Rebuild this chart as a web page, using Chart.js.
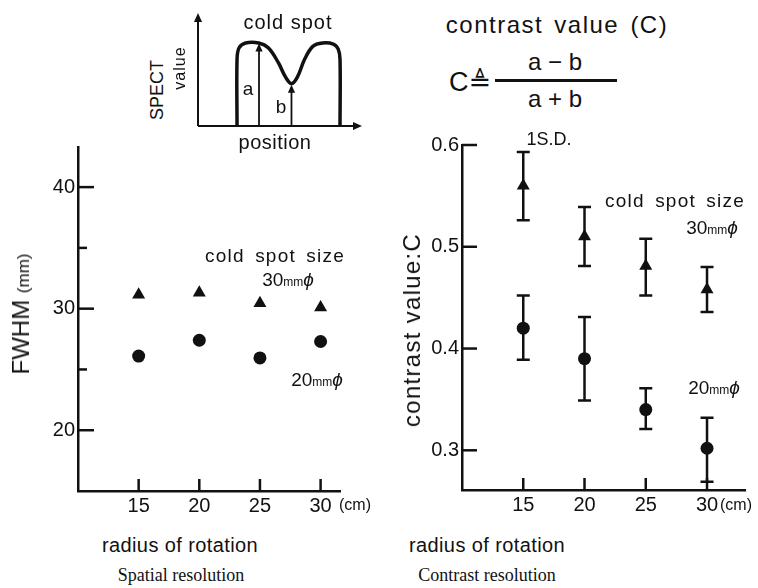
<!DOCTYPE html>
<html>
<head>
<meta charset="utf-8">
<script src="https://cdn.jsdelivr.net/npm/chart.js@4.4.1/dist/chart.umd.min.js"></script>
<style>
body { margin: 0; background: #fff; }
#page { position: relative; width: 758px; height: 588px; overflow: hidden;
  font-family: "Liberation Sans", Arial, sans-serif; color: #111; }
canvas { position: absolute; }
.t { position: absolute; transform: translate(-50%, -50%); white-space: nowrap; line-height: 1; }
.r { transform: translate(-50%, -50%) rotate(-90deg); }
.sm { font-size: 12px; }
.phi { font-style: italic; }
.serif { font-family: "Liberation Serif", "Times New Roman", serif; }
</style>
</head>
<body>
<div id="page">
  <canvas id="inset" width="172" height="121" style="left:194px;top:9px"></canvas>
  <canvas id="fwhm" width="380" height="390" style="left:0;top:130px"></canvas>
  <canvas id="contrast" width="378" height="390" style="left:380px;top:130px"></canvas>

  <!-- inset labels -->
  <div class="t" style="left:288px;top:22px;font-size:20px;letter-spacing:1px">cold spot</div>
  <div class="t" style="left:275px;top:142px;font-size:20px;letter-spacing:0.5px">position</div>
  <div class="t" style="left:248px;top:88px;font-size:19px">a</div>
  <div class="t" style="left:281px;top:106px;font-size:19px">b</div>
  <div class="t r" style="left:157px;top:90px;font-size:18px">SPECT</div>
  <div class="t r" style="left:180px;top:68px;font-size:16px;letter-spacing:1px">value</div>

  <!-- formula -->
  <div class="t" style="left:557px;top:25px;font-size:24px;letter-spacing:1.5px;word-spacing:3px">contrast value (C)</div>
  <div class="t" style="left:470px;top:82px;font-size:27px">C<span style="font-family:'DejaVu Sans'">≜</span></div>
  <div style="position:absolute;left:495px;top:79px;width:122px;height:3px;background:#111"></div>
  <div class="t" style="left:555px;top:62px;font-size:24px">a − b</div>
  <div class="t" style="left:555px;top:99px;font-size:24px">a + b</div>

  <!-- left chart labels -->
  <div class="t r" style="left:21px;top:314px;font-size:24px">FWHM <span style="font-size:17px">(mm)</span></div>
  <div class="t" style="left:275px;top:255px;font-size:19px;letter-spacing:1.2px;word-spacing:4px">cold spot size</div>
  <div class="t" style="left:288px;top:279px;font-size:19px">30<span class="sm">mm</span><span class="phi">ϕ</span></div>
  <div class="t" style="left:317px;top:379px;font-size:19px">20<span class="sm">mm</span><span class="phi">ϕ</span></div>
  <div class="t" style="left:355px;top:505px;font-size:16px">(cm)</div>
  <div class="t" style="left:180px;top:545px;font-size:20px;letter-spacing:0.4px">radius of rotation</div>
  <div class="t serif" style="left:181px;top:575px;font-size:18px">Spatial resolution</div>

  <!-- right chart labels -->
  <div class="t r" style="left:412px;top:330px;font-size:24px;letter-spacing:1.3px">contrast value:C</div>
  <div class="t" style="left:549px;top:139px;font-size:18px">1S.D.</div>
  <div class="t" style="left:675px;top:200px;font-size:19px;letter-spacing:1.2px;word-spacing:4px">cold spot size</div>
  <div class="t" style="left:712px;top:227px;font-size:19px">30<span class="sm">mm</span><span class="phi">ϕ</span></div>
  <div class="t" style="left:714px;top:387px;font-size:19px">20<span class="sm">mm</span><span class="phi">ϕ</span></div>
  <div class="t" style="left:736px;top:505px;font-size:16px">(cm)</div>
  <div class="t" style="left:487px;top:545px;font-size:20px;letter-spacing:0.4px">radius of rotation</div>
  <div class="t serif" style="left:487px;top:575px;font-size:18px">Contrast resolution</div>
</div>

<script>
// radius of rotation (cm)
const radius = [15, 20, 25, 30];

// spatial resolution, FWHM (mm)
const fwhm30 = [31.15, 31.3, 30.45, 30.1];
const fwhm20 = [26.1, 27.4, 25.95, 27.3];

// contrast value C, mean and +-1 S.D.
const contrast30 = [0.56, 0.51, 0.481, 0.458];
const contrast30Lo = [0.526, 0.481, 0.452, 0.436];
const contrast30Hi = [0.593, 0.539, 0.508, 0.48];
const contrast20 = [0.42, 0.39, 0.34, 0.302];
const contrast20Lo = [0.389, 0.349, 0.321, 0.269];
const contrast20Hi = [0.452, 0.431, 0.361, 0.332];

// tick values
const radiusTicks = [15, 20, 25, 30];
const fwhmTicks = [20, 25, 30, 35, 40];
const fwhmLabelTicks = [20, 30, 40];
const contrastTicks = [0.3, 0.4, 0.5, 0.6];

// schematic profile in the inset (position, SPECT value)
const profilePos = [2.38, 2.38, 2.5, 2.9, 3.7, 4.3, 4.9, 5.35, 5.7, 6.05, 6.5, 7.0, 7.6, 8.25, 8.55, 8.66, 8.66];
const profileVal = [0, 5.9, 6.9, 7.35, 7.35, 6.9, 5.6, 4.3, 3.75, 4.3, 5.9, 7.05, 7.35, 7.25, 6.8, 5.9, 0];
const arrowA = {pos: 3.72, val: 7.3};
const arrowB = {pos: 5.7, val: 3.65};

const INK = '#111';

function pts(xs, ys) {
  return xs.map((x, i) => ({x: x, y: ys[i]}));
}

const inwardTicks = {
  id: 'inwardTicks',
  afterDraw(chart, args, opts) {
    const ctx = chart.ctx;
    const xs = chart.scales.x, ys = chart.scales.y;
    ctx.save();
    ctx.strokeStyle = INK;
    ctx.lineWidth = 2.5;
    xs.ticks.forEach(t => {
      const px = xs.getPixelForValue(t.value);
      ctx.beginPath();
      ctx.moveTo(px, ys.bottom);
      ctx.lineTo(px, ys.bottom - opts.xLen);
      ctx.stroke();
    });
    ys.ticks.forEach(t => {
      const py = ys.getPixelForValue(t.value);
      const len = opts.labelled.includes(t.value) ? opts.yLen : opts.minorLen;
      ctx.beginPath();
      ctx.moveTo(xs.left, py);
      ctx.lineTo(xs.left + len, py);
      ctx.stroke();
    });
    ctx.restore();
  }
};

const errorBars = {
  id: 'errorBars',
  beforeDatasetsDraw(chart) {
    const ctx = chart.ctx;
    const xs = chart.scales.x, ys = chart.scales.y;
    ctx.save();
    ctx.strokeStyle = INK;
    ctx.lineWidth = 2.5;
    chart.data.datasets.forEach(ds => {
      if (!ds.errLo) return;
      ds.data.forEach((p, i) => {
        const px = xs.getPixelForValue(p.x);
        const y1 = ys.getPixelForValue(ds.errLo[i]);
        const y2 = ys.getPixelForValue(ds.errHi[i]);
        ctx.beginPath();
        ctx.moveTo(px, y1); ctx.lineTo(px, y2);
        ctx.moveTo(px - 6.5, y1); ctx.lineTo(px + 6.5, y1);
        ctx.moveTo(px - 6.5, y2); ctx.lineTo(px + 6.5, y2);
        ctx.stroke();
      });
    });
    ctx.restore();
  }
};

function scatterConfig(sets, yMin, yMax, yTicks, labelled, xMax, box, tickOpts, fmt) {
  return {
    type: 'scatter',
    data: {datasets: sets},
    options: {
      responsive: false,
      animation: false,
      events: [],
      layout: {padding: box.padding},
      plugins: {legend: {display: false}, tooltip: {enabled: false}, inwardTicks: tickOpts},
      scales: {
        x: {
          type: 'linear', min: 10, max: xMax,
          afterBuildTicks: s => { s.ticks = radiusTicks.map(v => ({value: v})); },
          afterFit: s => { s.height = box.xHeight; },
          grid: {display: false, drawTicks: false},
          border: {display: true, color: INK, width: 2.5},
          ticks: {color: INK, font: {size: 20, family: 'Liberation Sans'}, padding: 3, autoSkip: false, maxRotation: 0}
        },
        y: {
          type: 'linear', min: yMin, max: yMax,
          afterBuildTicks: s => { s.ticks = yTicks.map(v => ({value: v})); },
          afterFit: s => { s.width = box.yWidth; },
          grid: {display: false, drawTicks: false},
          border: {display: true, color: INK, width: 2.5},
          ticks: {
            color: INK, font: {size: 20, family: 'Liberation Sans'}, padding: 3, autoSkip: false,
            callback: v => labelled.includes(v) ? fmt(v) : ''
          }
        }
      }
    },
    plugins: [errorBars, inwardTicks]
  };
}

new Chart(document.getElementById('fwhm'), scatterConfig(
  [
    {data: pts(radius, fwhm30), pointStyle: 'triangle', pointRadius: 7.5, backgroundColor: INK, borderColor: INK, borderWidth: 0},
    {data: pts(radius, fwhm20), pointStyle: 'circle', pointRadius: 6.5, backgroundColor: INK, borderColor: INK, borderWidth: 0}
  ],
  15, 43.3, fwhmTicks, fwhmLabelTicks, 31.6,
  {padding: {left: 0, top: 17, right: 40, bottom: 0}, yWidth: 78, xHeight: 29},
  {xLen: 12, yLen: 16, minorLen: 9, labelled: fwhmLabelTicks},
  v => String(v)
));

new Chart(document.getElementById('contrast'), scatterConfig(
  [
    {data: pts(radius, contrast30), errLo: contrast30Lo, errHi: contrast30Hi, pointStyle: 'triangle', pointRadius: 7.5, backgroundColor: INK, borderColor: INK, borderWidth: 0},
    {data: pts(radius, contrast20), errLo: contrast20Lo, errHi: contrast20Hi, pointStyle: 'circle', pointRadius: 6.5, backgroundColor: INK, borderColor: INK, borderWidth: 0}
  ],
  0.261, 0.6, contrastTicks, contrastTicks, 33.1,
  {padding: {left: 0, top: 15, right: 13, bottom: 0}, yWidth: 82, xHeight: 30},
  {xLen: 12, yLen: 15, minorLen: 15, labelled: contrastTicks},
  v => v.toFixed(1)
));

// inset: axes with arrow heads, arrows a and b
function arrowHead(ctx, x, y, dir, size) {
  ctx.beginPath();
  if (dir === 'up') {
    ctx.moveTo(x, y); ctx.lineTo(x - size * 0.45, y + size); ctx.lineTo(x + size * 0.45, y + size);
  } else {
    ctx.moveTo(x, y); ctx.lineTo(x - size, y - size * 0.45); ctx.lineTo(x - size, y + size * 0.45);
  }
  ctx.closePath();
  ctx.fill();
}

const insetDecor = {
  id: 'insetDecor',
  afterDatasetsDraw(chart) {
    const ctx = chart.ctx;
    const xs = chart.scales.x, ys = chart.scales.y;
    const x0 = xs.getPixelForValue(0), y0 = ys.getPixelForValue(0);
    ctx.save();
    ctx.strokeStyle = INK; ctx.fillStyle = INK;
    ctx.lineWidth = 2;
    ctx.beginPath();
    ctx.moveTo(x0, y0); ctx.lineTo(x0, ys.getPixelForValue(9.6));
    ctx.moveTo(x0, y0); ctx.lineTo(xs.getPixelForValue(9.6), y0);
    ctx.stroke();
    arrowHead(ctx, x0, ys.getPixelForValue(10), 'up', 9);
    arrowHead(ctx, xs.getPixelForValue(10), y0, 'right', 9);
    ctx.lineWidth = 1.8;
    [arrowA, arrowB].forEach(a => {
      const px = xs.getPixelForValue(a.pos);
      const top = ys.getPixelForValue(a.val);
      ctx.beginPath();
      ctx.moveTo(px, y0); ctx.lineTo(px, top + 6);
      ctx.stroke();
      arrowHead(ctx, px, top, 'up', 8);
    });
    ctx.restore();
  }
};

new Chart(document.getElementById('inset'), {
  type: 'line',
  data: {datasets: [{
    data: pts(profilePos, profileVal),
    borderColor: INK, borderWidth: 3.5, pointRadius: 0, tension: 0.35, fill: false, clip: false
  }]},
  options: {
    responsive: false,
    animation: false,
    events: [],
    layout: {padding: 4},
    plugins: {legend: {display: false}, tooltip: {enabled: false}},
    scales: {
      x: {type: 'linear', min: 0, max: 10, display: false},
      y: {type: 'linear', min: 0, max: 10, display: false}
    }
  },
  plugins: [insetDecor]
});
</script>
</body>
</html>
